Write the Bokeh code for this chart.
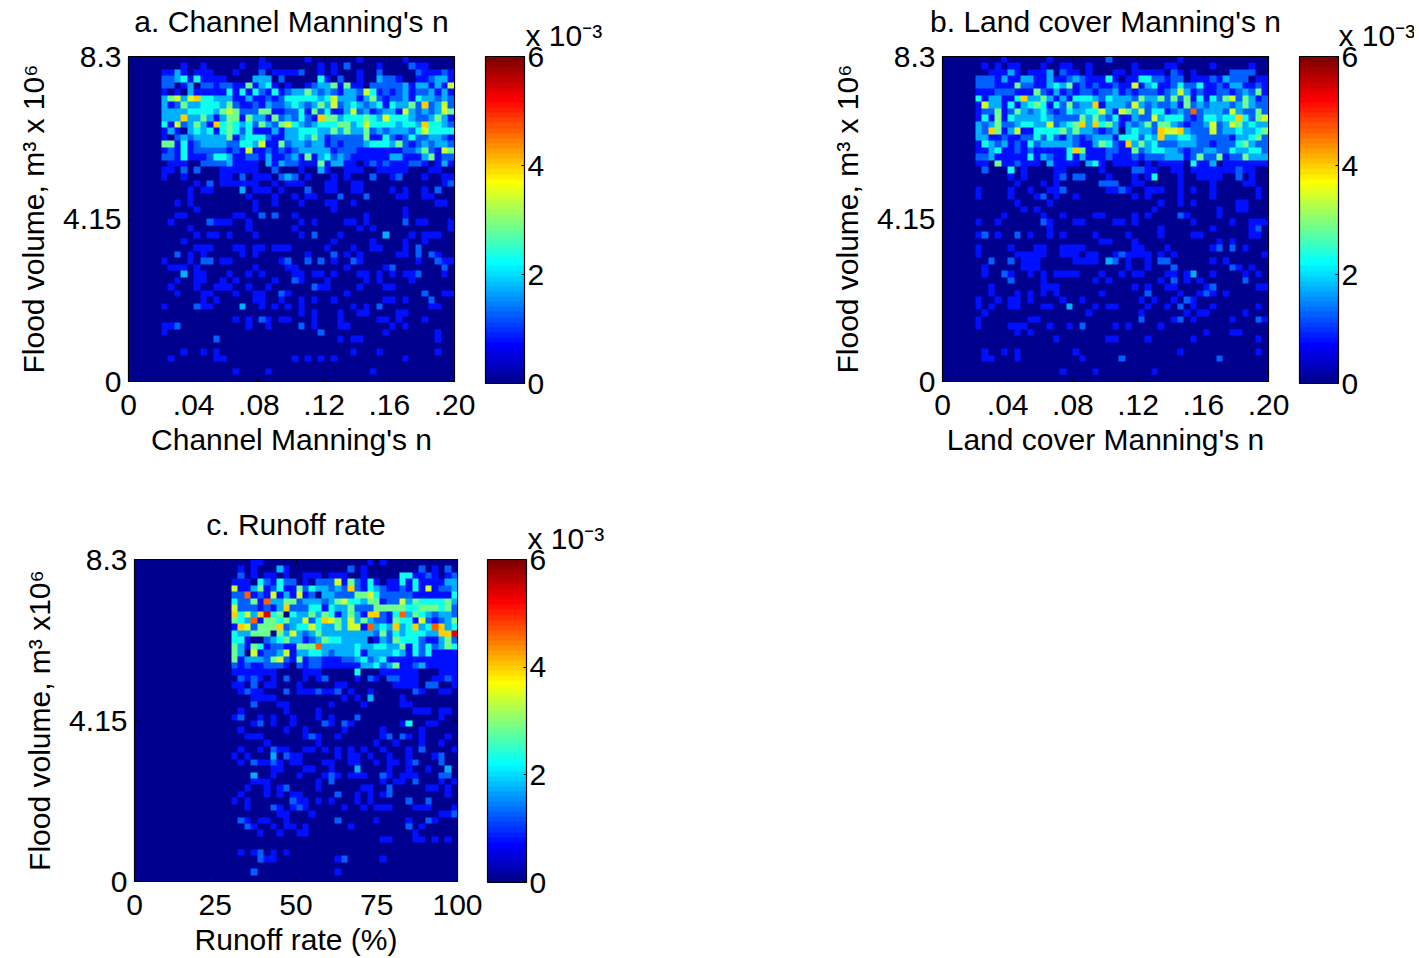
from bokeh.plotting import figure
from bokeh.models import (LinearColorMapper, ColorBar, FixedTicker, LinearAxis, Range1d, Label)
from bokeh.layouts import row, column
from bokeh.embed import file_html
from bokeh.resources import INLINE
import numpy as np

# density, in units of 1e-3, as colour levels per cell (top row first)
LEVEL_VALUES = [0, 0.75, 1.3, 1.7, 2.25, 2.9, 3.4, 4.0, 4.6, 5.4]

A_ROWS = [
"0000000000 0000000000 1000000100 0000010000 0010000000",
"0000000010 0100000100 1100000001 0102000010 0002110000",
"0000011310 1110001000 2011112001 0100010020 0000211121",
"0000022341 4111100003 3302000004 1020010032 2100112331",
"0000022013 0221221151 3410100123 3515110222 2231331316",
"0000010103 1111141414 2141233532 3213326412 1231223131",
"0000035636 7443331131 1212444443 4633313521 2231433232",
"0000031253 3444352112 1322343235 3623432341 4335272362",
"0000033334 4443565222 5511224152 4113623123 3163232365",
"0000033373 3531355153 3152324217 5534445436 4443223531",
"0000041623 5317454342 5325643234 4455346444 4344374432",
"0000013103 4341454241 1131334443 3535335232 3332464444",
"0000010232 3333351344 4211334353 1222225114 2124223321",
"0000055141 2333322443 6115233233 1212223444 3521232332",
"0000012141 2222212161 1212123333 3122211111 1122352165",
"0000022141 1124431122 1311231513 4232111111 3311135122",
"0000001110 0222231111 0313221115 1331101212 1112210131",
"0000011020 2000111111 0020001003 1001110011 1110001100",
"0000010010 0000110201 1102320100 0101000200 1200010011",
"0000000000 1020111111 0010111000 1100110000 0000000012",
"0000000001 0110000301 1101000200 1100110000 1010010200",
"0000000001 0000000010 0010010110 0020002000 0110011000",
"0000000101 0000000001 0010001000 1100100000 0000000110",
"0000000000 1000000001 0000000000 0100000000 0010000000",
"0000000110 0000001100 2020010000 0000001000 0010000000",
"0000001000 0021110010 0000001010 0001101000 0020110001",
"0000000001 0000000010 0000010000 0000010100 0000000001",
"0000000000 1011010001 0000001020 0010000003 0001011100",
"0000000010 0000000000 0000000000 0100000100 0010010000",
"0000000000 1110001101 1011100000 1000100110 0010200000",
"0000000201 0100000101 0000000100 0201010000 0110202100",
"0000010001 0220110000 0001200202 0100210000 0000100211",
"0000001110 1000000001 0000110000 0001000001 2000000020",
"0000000030 1100010010 1000011011 0100011010 1011200010",
"0000000100 1100101000 0010021000 1000001010 0001000000",
"0000001000 1001110010 0100000021 1000010001 1000000000",
"0000000100 0110001001 1002100000 0001000000 0000020011",
"0000000000 0101000001 1001001010 0100000001 1010002000",
"0000010000 2110000300 1010101000 0000101020 0000001100",
"0000000000 0000000000 0000001010 0010011000 0110000000",
"0000000000 0000001010 2101100010 0010000011 0100010000",
"0000011200 0000000010 0100002010 0011000000 1010000000",
"0000010000 0000000000 0000000002 0000000001 0000000100",
"0000000000 0002000000 0000000000 0010110000 0000000100",
"0000000000 0000000000 0000000000 0000000000 0000000000",
"0000000010 0101000000 0000000000 0000100010 0000000100",
"0000001000 0001100000 0000010101 0100000000 0010000000",
"0000000000 0000000000 0000000000 0000000000 0000000000",
"0000000000 0000001000 0100000000 0000000100 0000000000",
"0000000000 0000000000 0000000000 0000000000 0000000000",
]
B_ROWS = [
"0000000001 0000001000 0000020000 0000001000 0000000000",
"0000001010 1100010011 0010000001 0000110000 0100000100",
"0000000111 3101113021 1010001101 1111021010 0000222200",
"0000022213 1133113112 3211141011 4422122011 1213222011",
"0000022211 1522113435 1212112116 1341124224 1121331121",
"0000011122 2111521312 1221223121 2221236312 1122123251",
"0000041331 1473353131 4443243332 5335252514 1425625312",
"0000016331 4134541425 2337133326 3232231523 2333235322",
"0000012251 2532342124 3344631653 6244123282 3332632252",
"0000014151 4333343222 2535324113 2263444212 4434474256",
"0000032352 2344336234 5737453132 3525532122 3623653433",
"0000032751 3611444453 5332123034 3327667322 2623343345",
"0000033112 1122424213 2123331444 2437334432 2222133452",
"0000014323 1214233333 2113542173 5342223332 2122245322",
"0000011341 1212111114 7511122115 2344332122 3322433442",
"0000022311 1114132114 1311121112 1222333125 2251225333",
"0000011051 1211103111 1034101111 0101111041 1301111111",
"0000002000 4010000110 0000100002 2110011011 1111121100",
"0000000000 1010000120 2200010001 0140001001 1110020100",
"0000000000 0100010100 0000222001 1000001000 0100001100",
"0000010000 1001001120 0000011210 0111001010 0100000010",
"0000010000 1000120100 1000000001 0100001000 0100000010",
"0000000000 0100001000 0000000000 0001001010 0000011000",
"0000000000 0010100000 0000000000 0010000000 0010011000",
"0000000001 0000010010 0001100001 0100002100 0010000000",
"0000010010 0000021000 1100001101 0000000010 0000100111",
"0000000000 0000001000 0000000000 0001000000 0100000120",
"0000012010 0201001010 0001000010 0001000011 0000000110",
"0000000000 0000000000 0000110001 0000000000 0010100000",
"0000010000 1000110011 1100000001 1000100000 0120201000",
"0000010000 0111110011 1011001211 1101010000 0000000001",
"0000000200 2011100000 1111032010 0102200000 0101000000",
"0000001000 0011100000 0000000010 0100020000 0000210100",
"0000001002 1001010111 1000100101 1000110130 0100001010",
"0000000000 2000010000 0001010000 0001020101 0000002000",
"0000000100 0000011100 0000000001 0100110000 1200000011",
"0000000100 0101010100 0000100000 0200001001 2101000000",
"0000010010 1101000010 0100000000 1010010210 0000000000",
"0000010100 1100011003 0001011000 0100102010 0100000010",
"0000001000 0000000000 0010000000 1000000101 1000001000",
"0000010000 0001100000 0000000000 2000012010 0000100021",
"0000010000 1110001001 0200001010 0001000000 0000000000",
"0000000000 0101000000 0000000000 0000000000 1000110000",
"0000000000 0000000100 0000011000 0100000010 0000000010",
"0000000000 0000000000 0000000000 0000000000 0000000000",
"0000001001 0100000000 1000000000 0000001000 0000000010",
"0000001100 0100000000 0100000200 0000000000 0020000000",
"0000000000 0000000000 0000000000 0000000000 0000000000",
"0000000000 0000000010 0001000000 0010000000 0000000000",
"0000000000 0000000000 0000000000 0000000000 0000000000",
]
C_ROWS = [
"0000000000 0000000011 0000000000 0000001010 0000000000",
"0000000000 0000001010 0031000000 0002010000 0000201020",
"0000000000 0000002010 1101001110 1110010000 0441121012",
"0000000000 0000011104 2142201022 2615214101 1414111133",
"0000000000 0000061135 1241152433 2327214321 1214161223",
"0000000000 0000022812 1613161203 3222556422 2221111114",
"0000000000 0000042251 8335523332 3564435512 2635444453",
"0000000000 0000062221 2137222441 4335222555 5544555452",
"0000000000 0000074637 9450433535 4135317721 4835432332",
"0000000000 0000054381 5545336247 6536353221 5441621235",
"0000000000 0000017625 5572344643 3536618343 7347348734",
"0000000000 0000043355 5053632353 3333333252 4344433779",
"0000000000 0000044100 2345331235 4433330132 5444211352",
"0000000000 0000053154 1221155583 3333433443 3514242354",
"0000000000 0000053061 2236133443 2333413333 4314241111",
"0000000000 0000051333 2562151221 1122342341 1111111111",
"0000000000 0000021211 2221021221 1111133423 5112311111",
"0000000000 0000011111 1100001110 0000400011 1111000111",
"0000000000 0000002121 0102001012 0000102102 2111001121",
"0000000000 0000011020 1100010000 0110000000 1111022001",
"0000000000 0000001211 0002011121 1201001000 0002100110",
"0000000000 0000000011 1100000000 0010103000 0100000000",
"0000000000 0000000020 0011000000 1000010000 0110000000",
"0000000000 0000001000 0001000010 0000000000 0001110110",
"0000000000 0000012001 0100100010 1000200000 0000000100",
"0000000000 0000000012 0100100002 1021000000 0140011000",
"0000000000 0000001000 0001001000 0010000010 0000100000",
"0000000000 0000000111 0000001210 0100000012 0210100010",
"0000000000 0000000000 1000000010 0000000100 1000100100",
"0000000000 0000001001 0211001101 0101010010 0010200001",
"0000000000 0000010100 0302110000 0101101001 0010001200",
"0000000000 0000001021 1210110001 1001100101 1012000200",
"0000000000 0000000000 0110001100 1000300001 0010010030",
"0000000000 0000000030 0100010001 2101110021 0111000220",
"0000000000 0000000011 1000000010 2000000010 1102000101",
"0000000000 0000000100 1012000010 0000011002 0000011010",
"0000000000 0000001000 1010110000 0200101012 0000000010",
"0000000000 0000010100 0000211010 1000101000 0020020000",
"0000000000 0000000100 0210121000 0010010111 0001110001",
"0000000000 0000000000 0011000100 0000000000 0000000112",
"0000000000 0000002101 1001000000 0200000100 0010021000",
"0000000000 0000000210 0101101000 0001000000 0020100000",
"0000000000 0000000001 0010011000 0000000000 0001000000",
"0000000000 0000000000 0000000000 0000000011 0001101010",
"0000000000 0000000000 0000000000 0000000000 0000000000",
"0000000000 0000001012 0101000000 0000000000 0000000000",
"0000000000 0000000002 1100000000 0120000010 0000000000",
"0000000000 0000000000 0000000000 0000000000 0000000000",
"0000000000 0000000020 0000000000 0100000000 0000000000",
"0000000000 0000000000 0000000000 0000000000 0000000000",
]

TITLES = ["a. Channel Manning's n", "b. Land cover Manning's n", "c. Runoff rate"]
XLABELS = ["Channel Manning's n", "Land cover Manning's n", "Runoff rate (%)"]
YLABELS = ["Flood volume, m\u00b3 x 10\u2076", "Flood volume, m\u00b3 x 10\u2076", "Flood volume, m\u00b3 x10\u2076"]
XTICKS_N = [0, 0.04, 0.08, 0.12, 0.16, 0.2]
XLABELS_N = ["0", ".04", ".08", ".12", ".16", ".20"]
XTICKS_R = [0, 25, 50, 75, 100]
XLABELS_R = ["0", "25", "50", "75", "100"]
YTICKS = [0, 4.15, 8.3]
YTICK_LABELS = ["0", "4.15", "8.3"]
CB_TICKS = [0, 2, 4, 6]


def jet(n=64):
    out = []
    for i in range(n):
        t = (i + 1) / n
        r = np.clip(min(4 * t - 1.5, -4 * t + 4.5), 0, 1)
        g = np.clip(min(4 * t - 0.5, -4 * t + 3.5), 0, 1)
        b = np.clip(min(4 * t + 0.5, -4 * t + 2.5), 0, 1)
        out.append("#%02x%02x%02x" % (int(r * 255), int(g * 255), int(b * 255)))
    return out


FONT = "Liberation Sans"
FS = "30px"
PALETTE = jet()
TOP = 56
REPEAT = 8  # cells kept crisp when the browser rescales the image


def to_array(rows):
    data = []
    for s in rows:
        s = s.replace(" ", "").ljust(50, "0")[:50]
        data.append([LEVEL_VALUES[int(c)] for c in s])
    arr = np.array(data, dtype=float)[::-1]
    return np.repeat(np.repeat(arr, REPEAT, axis=0), REPEAT, axis=1)


def box_axis(ticks):
    return LinearAxis(ticker=FixedTicker(ticks=ticks), major_tick_in=3, major_tick_out=0,
                      minor_tick_line_color=None, major_label_text_font_size="0px",
                      major_label_standoff=0, axis_line_color="#000000",
                      major_tick_line_color="#000000", major_label_text_color=None)


def top_axis(ticks):
    # its blank labels hold the title clear of the frame
    return LinearAxis(ticker=FixedTicker(ticks=ticks), major_tick_in=3, major_tick_out=0,
                      minor_tick_line_color=None, major_label_text_font_size="1px",
                      major_label_overrides={t: " " for t in ticks},
                      major_label_standoff=13, axis_line_color="#000000",
                      major_tick_line_color="#000000", major_label_text_color="#ffffff")


def panel(rows, title, xlabel, ylabel, xticks, xlabels, xmax, fig_w, fig_h, left, inner_w, inner_h, cb_h,
          cb_gap, cb_y, exp_x, exp_y, exp_side):
    bottom = fig_h - TOP - inner_h
    p = figure(width=fig_w, height=fig_h, output_backend="svg", toolbar_location=None,
               x_range=Range1d(0, xmax), y_range=Range1d(0, 8.3),
               min_border_left=left, min_border_right=fig_w - left - inner_w,
               min_border_top=TOP, min_border_bottom=bottom, tools="")
    p.background_fill_color = "white"
    p.border_fill_color = "white"
    p.grid.visible = False
    mapper = LinearColorMapper(palette=PALETTE, low=0, high=6)
    p.image(image=[to_array(rows)], x=0, y=0, dw=xmax, dh=8.3, color_mapper=mapper)
    p.outline_line_color = "#000000"
    p.outline_line_width = 1.2

    p.title.text = title
    p.title.align = "center"
    p.title.vertical_align = "top"
    p.title.text_font = FONT
    p.title.text_font_size = FS
    p.title.text_font_style = "normal"
    p.title.text_color = "#000000"
    p.title.standoff = 0

    ax = p.xaxis[0]
    ax.ticker = FixedTicker(ticks=xticks)
    ax.major_label_overrides = dict(zip(xticks, xlabels))
    ax.axis_label = xlabel
    ay = p.yaxis[0]
    ay.ticker = FixedTicker(ticks=YTICKS)
    ay.major_label_overrides = dict(zip(YTICKS, YTICK_LABELS))
    ay.axis_label = ylabel
    for a in (ax, ay):
        a.major_tick_in = 3
        a.major_tick_out = 0
        a.minor_tick_line_color = None
        a.major_label_text_font = FONT
        a.major_label_text_font_size = FS
        a.major_label_text_color = "#000000"
        a.axis_label_text_font = FONT
        a.axis_label_text_font_size = FS
        a.axis_label_text_font_style = "normal"
        a.axis_label_text_color = "#000000"
        a.axis_line_color = "#000000"
        a.major_tick_line_color = "#000000"
    ax.major_label_standoff = 13
    ax.axis_label_standoff = 5
    ay.major_label_standoff = 7
    ay.axis_label_standoff = 10

    p.add_layout(top_axis(xticks), "above")
    p.add_layout(box_axis(YTICKS), "right")

    cb = ColorBar(color_mapper=mapper, ticker=FixedTicker(ticks=CB_TICKS),
                  major_label_overrides={t: str(t) for t in CB_TICKS},
                  width=39, height=cb_h, padding=0, margin=0, location=(cb_gap, cb_y),
                  major_label_text_font=FONT, major_label_text_font_size=FS,
                  major_label_text_color="#000000", major_tick_line_color="#000000",
                  major_tick_in=3, minor_tick_line_color=None, bar_line_color="#000000",
                  bar_line_width=1.2, label_standoff=3, background_fill_color=None,
                  border_line_color=None)
    p.add_layout(cb, "right")
    p.add_layout(Label(x=exp_x, y=exp_y, x_units="canvas", y_units="canvas", text="x 10\u207b\u00b3",
                       text_font=FONT, text_font_size=FS, text_color="#000000",
                       text_baseline="alphabetic"), exp_side)
    return p


a = panel(A_ROWS, TITLES[0], XLABELS[0], YLABELS[0], XTICKS_N, XLABELS_N, 0.2,
          814, 503, 128, 326, 325, 327, 31, -2, 525, 35, "below")
b = panel(B_ROWS, TITLES[1], XLABELS[1], YLABELS[1], XTICKS_N, XLABELS_N, 0.2,
          600, 503, 128, 326, 325, 327, 31, -2, 524, 35, "below")
c = panel(C_ROWS, TITLES[2], XLABELS[2], YLABELS[2], XTICKS_R, XLABELS_R, 100,
          814, 455, 134, 323, 322, 323, 30, -1, 527, 35, "right")

page = column(row(a, b, spacing=0), c, spacing=0)
open("out.html", "w").write(file_html(page, INLINE))
